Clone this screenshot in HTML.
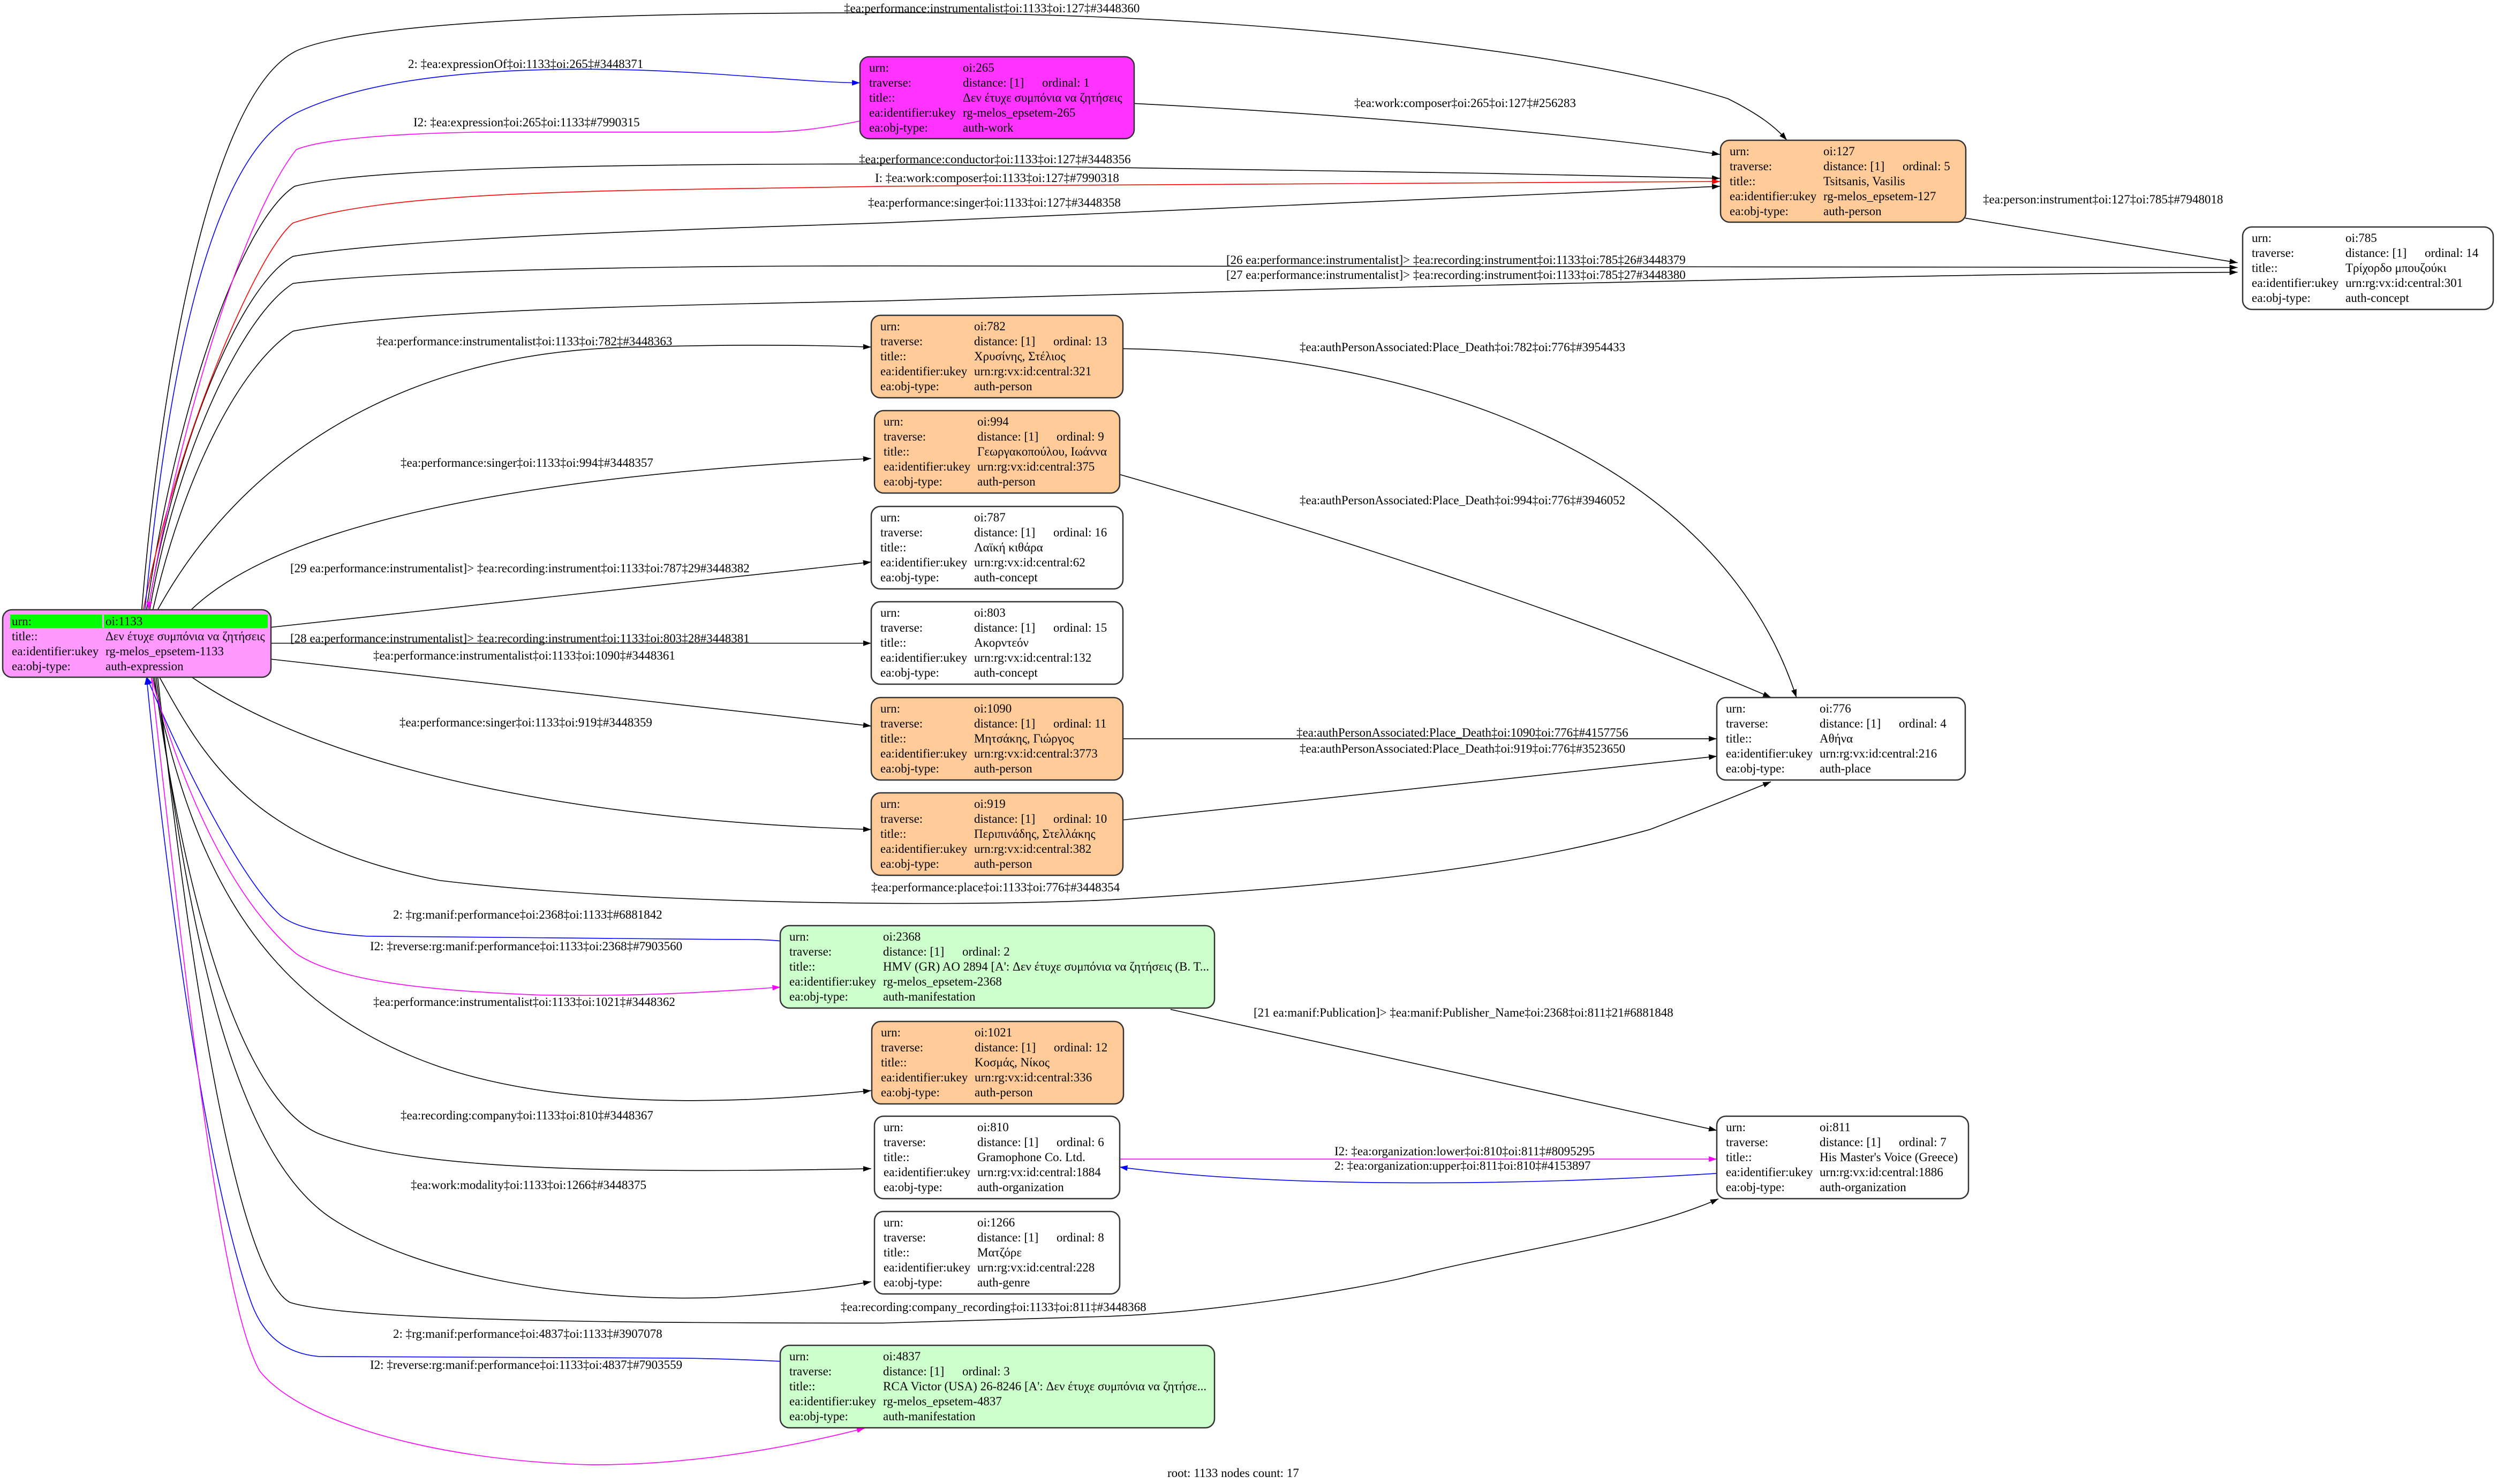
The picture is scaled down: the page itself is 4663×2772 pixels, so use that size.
<!DOCTYPE html>
<html><head><meta charset="utf-8"><style>
html,body{margin:0;padding:0;background:#fff;}
svg{display:block;}
text{font-family:"Liberation Serif","DejaVu Serif",serif;font-size:23px;fill:#000;}
.n{stroke:#333;stroke-width:2.5;}
</style></head><body>
<svg width="4663" height="2772" viewBox="0 0 4663 2772" xmlns="http://www.w3.org/2000/svg">
<defs>
<marker id="ak" markerUnits="userSpaceOnUse" markerWidth="5" markerHeight="3.6" viewBox="0 0 10 7" refX="10" refY="3.5" orient="auto"><path d="M0,0L10,3.5L0,7z" fill="#000"/></marker>
<marker id="ab" markerUnits="userSpaceOnUse" markerWidth="5" markerHeight="3.6" viewBox="0 0 10 7" refX="10" refY="3.5" orient="auto"><path d="M0,0L10,3.5L0,7z" fill="#00f"/></marker>
<marker id="am" markerUnits="userSpaceOnUse" markerWidth="5" markerHeight="3.6" viewBox="0 0 10 7" refX="10" refY="3.5" orient="auto"><path d="M0,0L10,3.5L0,7z" fill="#f0f"/></marker>
<marker id="ar" markerUnits="userSpaceOnUse" markerWidth="5" markerHeight="3.6" viewBox="0 0 10 7" refX="10" refY="3.5" orient="auto"><path d="M0,0L10,3.5L0,7z" fill="#f00"/></marker>
</defs>
<rect width="4663" height="2772" fill="#fff"/>
<g transform="scale(2.974)" fill="none" stroke-width="1.6">
<g stroke="#000" marker-end="url(#ak)">
<path vector-effect="non-scaling-stroke" d="M89,383 C100,250 130,60 186,32 C230,12 400,8 560,8 C800,8 1000,35 1085,62 C1105,72 1115,80 1122,88"/>
<path vector-effect="non-scaling-stroke" d="M92,383 C110,260 150,140 185,117 C230,105 400,103 555,103 C700,104 900,108 1080,112"/>
<path vector-effect="non-scaling-stroke" d="M93,383 C110,280 150,180 184,161 C250,150 400,145 555,140 C700,134 900,125 1080,117"/>
<path vector-effect="non-scaling-stroke" d="M94,383 C110,290 150,200 184,178 C250,170 400,167 555,167 C800,167 1200,168 1405,168"/>
<path vector-effect="non-scaling-stroke" d="M96,383 C115,300 150,230 184,208 C250,195 400,192 555,189 C800,182 1200,172 1405,171"/>
<path vector-effect="non-scaling-stroke" d="M99,383 C150,290 250,220 400,218 C470,216 520,217 547,218"/>
<path vector-effect="non-scaling-stroke" d="M120,383 C170,335 300,300 547,288"/>
<path vector-effect="non-scaling-stroke" d="M170,394 L547,353"/>
<path vector-effect="non-scaling-stroke" d="M170,404 L547,404"/>
<path vector-effect="non-scaling-stroke" d="M170,414 L547,456"/>
<path vector-effect="non-scaling-stroke" d="M120,425 C200,480 350,515 547,521"/>
<path vector-effect="non-scaling-stroke" d="M100,425 C130,480 160,530 276,553 C400,568 600,570 700,565 C850,556 950,545 1036,521 C1070,508 1095,498 1112,491"/>
<path vector-effect="non-scaling-stroke" d="M96,425 C120,540 160,630 276,670 C350,695 450,695 547,685"/>
<path vector-effect="non-scaling-stroke" d="M97,425 C115,560 150,690 200,712 C250,732 350,738 547,734"/>
<path vector-effect="non-scaling-stroke" d="M98,425 C120,600 150,730 211,767 C260,798 350,818 450,815 C500,812 530,808 547,805"/>
<path vector-effect="non-scaling-stroke" d="M99,425 C120,620 150,800 182,818 C220,830 400,831 555,831 L689,827 C760,825 850,810 884,802 C950,785 1030,775 1079,753"/>
<path vector-effect="non-scaling-stroke" d="M712,65 C850,72 1000,85 1080,97"/>
<path vector-effect="non-scaling-stroke" d="M1234,137 L1405,165"/>
<path vector-effect="non-scaling-stroke" d="M705,219 C900,222 1080,290 1128,438"/>
<path vector-effect="non-scaling-stroke" d="M703,298 C850,340 1000,390 1112,438"/>
<path vector-effect="non-scaling-stroke" d="M705,464 L1078,464"/>
<path vector-effect="non-scaling-stroke" d="M705,515 L1078,475"/>
<path vector-effect="non-scaling-stroke" d="M735,634 L1078,710"/>
</g>
<path vector-effect="non-scaling-stroke" stroke="#f00" marker-end="url(#ar)" d="M90,383 C110,280 160,160 184,140 C250,118 400,120 555,117 C800,114 950,114 1080,114"/>
<g stroke="#00f" marker-end="url(#ab)">
<path vector-effect="non-scaling-stroke" d="M91,383 C105,240 130,100 186,71 C240,45 330,42 400,44 C460,46 510,52 540,52"/>
<path vector-effect="non-scaling-stroke" d="M490,591 C480,590 470,590 450,590 L230,588 C200,586 185,582 176,575 C150,550 115,480 92,425"/>
<path vector-effect="non-scaling-stroke" d="M490,855 C470,854 440,853 420,853 L200,852 C180,850 165,840 157,816 C130,740 105,560 92,425"/>
<path vector-effect="non-scaling-stroke" d="M1078,737 C950,745 800,746 703,733"/>
</g>
<g stroke="#f0f" marker-end="url(#am)">
<path vector-effect="non-scaling-stroke" d="M540,76 C520,80 500,83 478,83 L300,83 C240,84 200,88 186,94 C150,140 110,280 93,383"/>
<path vector-effect="non-scaling-stroke" d="M95,425 C110,480 140,560 186,599 C210,615 260,622 340,625 C400,626 450,623 490,620"/>
<path vector-effect="non-scaling-stroke" d="M95,425 C120,650 140,820 163,861 C190,895 280,918 372,920 C440,920 500,908 543,897"/>
<path vector-effect="non-scaling-stroke" d="M703,728 L1078,728"/>
</g>
</g>

<text x="1576" y="23">‡ea:performance:instrumentalist‡oi:1133‡oi:127‡#3448360</text>
<text x="762" y="127">2: ‡ea:expressionOf‡oi:1133‡oi:265‡#3448371</text>
<text x="772" y="236">I2: ‡ea:expression‡oi:265‡oi:1133‡#7990315</text>
<text x="1604" y="305">‡ea:performance:conductor‡oi:1133‡oi:127‡#3448356</text>
<text x="1634" y="340">I: ‡ea:work:composer‡oi:1133‡oi:127‡#7990318</text>
<text x="1621" y="386">‡ea:performance:singer‡oi:1133‡oi:127‡#3448358</text>
<text x="2290" y="493">[26 ea:performance:instrumentalist]&gt; ‡ea:recording:instrument‡oi:1133‡oi:785‡26#3448379</text>
<text x="2290" y="521">[27 ea:performance:instrumentalist]&gt; ‡ea:recording:instrument‡oi:1133‡oi:785‡27#3448380</text>
<text x="703" y="645">‡ea:performance:instrumentalist‡oi:1133‡oi:782‡#3448363</text>
<text x="748" y="872">‡ea:performance:singer‡oi:1133‡oi:994‡#3448357</text>
<text x="542" y="1069">[29 ea:performance:instrumentalist]&gt; ‡ea:recording:instrument‡oi:1133‡oi:787‡29#3448382</text>
<text x="542" y="1200">[28 ea:performance:instrumentalist]&gt; ‡ea:recording:instrument‡oi:1133‡oi:803‡28#3448381</text>
<text x="697" y="1232">‡ea:performance:instrumentalist‡oi:1133‡oi:1090‡#3448361</text>
<text x="746" y="1357">‡ea:performance:singer‡oi:1133‡oi:919‡#3448359</text>
<text x="1627" y="1665">‡ea:performance:place‡oi:1133‡oi:776‡#3448354</text>
<text x="734" y="1716">2: ‡rg:manif:performance‡oi:2368‡oi:1133‡#6881842</text>
<text x="691" y="1775">I2: ‡reverse:rg:manif:performance‡oi:1133‡oi:2368‡#7903560</text>
<text x="697" y="1879">‡ea:performance:instrumentalist‡oi:1133‡oi:1021‡#3448362</text>
<text x="748" y="2091">‡ea:recording:company‡oi:1133‡oi:810‡#3448367</text>
<text x="767" y="2221">‡ea:work:modality‡oi:1133‡oi:1266‡#3448375</text>
<text x="1570" y="2449">‡ea:recording:company_recording‡oi:1133‡oi:811‡#3448368</text>
<text x="734" y="2499">2: ‡rg:manif:performance‡oi:4837‡oi:1133‡#3907078</text>
<text x="691" y="2557">I2: ‡reverse:rg:manif:performance‡oi:1133‡oi:4837‡#7903559</text>
<text x="2529" y="200">‡ea:work:composer‡oi:265‡oi:127‡#256283</text>
<text x="3703" y="380">‡ea:person:instrument‡oi:127‡oi:785‡#7948018</text>
<text x="2427" y="656">‡ea:authPersonAssociated:Place_Death‡oi:782‡oi:776‡#3954433</text>
<text x="2427" y="942">‡ea:authPersonAssociated:Place_Death‡oi:994‡oi:776‡#3946052</text>
<text x="2421" y="1376">‡ea:authPersonAssociated:Place_Death‡oi:1090‡oi:776‡#4157756</text>
<text x="2427" y="1406">‡ea:authPersonAssociated:Place_Death‡oi:919‡oi:776‡#3523650</text>
<text x="2341" y="1899">[21 ea:manif:Publication]&gt; ‡ea:manif:Publisher_Name‡oi:2368‡oi:811‡21#6881848</text>
<text x="2492" y="2158">I2: ‡ea:organization:lower‡oi:810‡oi:811‡#8095295</text>
<text x="2492" y="2185">2: ‡ea:organization:upper‡oi:811‡oi:810‡#4153897</text>
<text x="2180" y="2759">root: 1133 nodes count: 17</text>

<rect class="n" x="5" y="1139" width="501" height="126" rx="17" fill="#ff99ff"/>
<rect x="19" y="1148" width="172" height="25" fill="#00ff00"/>
<rect x="194" y="1148" width="306" height="25" fill="#00ff00"/>
<text x="22" y="1168">urn:</text><text x="197" y="1168">oi:1133</text>
<text x="22" y="1196">title::</text><text x="197" y="1196">Δεν έτυχε συμπόνια να ζητήσεις</text>
<text x="22" y="1224">ea:identifier:ukey</text><text x="197" y="1224">rg-melos_epsetem-1133</text>
<text x="22" y="1252">ea:obj-type:</text><text x="197" y="1252">auth-expression</text>

<rect class="n" x="1606" y="106" width="512" height="153" rx="17" fill="#ff33ff"/>
<g transform="translate(1606,106)">
<text x="17" y="28">urn:</text><text x="192" y="28">oi:265</text>
<text x="17" y="56">traverse:</text><text x="192" y="56">distance: [1]</text><text x="340" y="56">ordinal: 1</text>
<text x="17" y="84">title::</text><text x="192" y="84">Δεν έτυχε συμπόνια να ζητήσεις</text>
<text x="17" y="112">ea:identifier:ukey</text><text x="192" y="112">rg-melos_epsetem-265</text>
<text x="17" y="140">ea:obj-type:</text><text x="192" y="140">auth-work</text></g>

<rect class="n" x="3213" y="262" width="458" height="153" rx="17" fill="#ffcc99"/>
<g transform="translate(3213,262)">
<text x="17" y="28">urn:</text><text x="192" y="28">oi:127</text>
<text x="17" y="56">traverse:</text><text x="192" y="56">distance: [1]</text><text x="340" y="56">ordinal: 5</text>
<text x="17" y="84">title::</text><text x="192" y="84">Tsitsanis, Vasilis</text>
<text x="17" y="112">ea:identifier:ukey</text><text x="192" y="112">rg-melos_epsetem-127</text>
<text x="17" y="140">ea:obj-type:</text><text x="192" y="140">auth-person</text></g>

<rect class="n" x="4188" y="424" width="468" height="154" rx="17" fill="#fff"/>
<g transform="translate(4188,424)">
<text x="17" y="28">urn:</text><text x="192" y="28">oi:785</text>
<text x="17" y="56">traverse:</text><text x="192" y="56">distance: [1]</text><text x="340" y="56">ordinal: 14</text>
<text x="17" y="84">title::</text><text x="192" y="84">Τρίχορδο μπουζούκι</text>
<text x="17" y="112">ea:identifier:ukey</text><text x="192" y="112">urn:rg:vx:id:central:301</text>
<text x="17" y="140">ea:obj-type:</text><text x="192" y="140">auth-concept</text></g>

<rect class="n" x="1627" y="589" width="470" height="154" rx="17" fill="#ffcc99"/>
<g transform="translate(1627,589)">
<text x="17" y="28">urn:</text><text x="192" y="28">oi:782</text>
<text x="17" y="56">traverse:</text><text x="192" y="56">distance: [1]</text><text x="340" y="56">ordinal: 13</text>
<text x="17" y="84">title::</text><text x="192" y="84">Χρυσίνης, Στέλιος</text>
<text x="17" y="112">ea:identifier:ukey</text><text x="192" y="112">urn:rg:vx:id:central:321</text>
<text x="17" y="140">ea:obj-type:</text><text x="192" y="140">auth-person</text></g>

<rect class="n" x="1633" y="767" width="458" height="154" rx="17" fill="#ffcc99"/>
<g transform="translate(1633,767)">
<text x="17" y="28">urn:</text><text x="192" y="28">oi:994</text>
<text x="17" y="56">traverse:</text><text x="192" y="56">distance: [1]</text><text x="340" y="56">ordinal: 9</text>
<text x="17" y="84">title::</text><text x="192" y="84">Γεωργακοπούλου, Ιωάννα</text>
<text x="17" y="112">ea:identifier:ukey</text><text x="192" y="112">urn:rg:vx:id:central:375</text>
<text x="17" y="140">ea:obj-type:</text><text x="192" y="140">auth-person</text></g>

<rect class="n" x="1627" y="946" width="470" height="154" rx="17" fill="#fff"/>
<g transform="translate(1627,946)">
<text x="17" y="28">urn:</text><text x="192" y="28">oi:787</text>
<text x="17" y="56">traverse:</text><text x="192" y="56">distance: [1]</text><text x="340" y="56">ordinal: 16</text>
<text x="17" y="84">title::</text><text x="192" y="84">Λαϊκή κιθάρα</text>
<text x="17" y="112">ea:identifier:ukey</text><text x="192" y="112">urn:rg:vx:id:central:62</text>
<text x="17" y="140">ea:obj-type:</text><text x="192" y="140">auth-concept</text></g>

<rect class="n" x="1627" y="1124" width="470" height="154" rx="17" fill="#fff"/>
<g transform="translate(1627,1124)">
<text x="17" y="28">urn:</text><text x="192" y="28">oi:803</text>
<text x="17" y="56">traverse:</text><text x="192" y="56">distance: [1]</text><text x="340" y="56">ordinal: 15</text>
<text x="17" y="84">title::</text><text x="192" y="84">Ακορντεόν</text>
<text x="17" y="112">ea:identifier:ukey</text><text x="192" y="112">urn:rg:vx:id:central:132</text>
<text x="17" y="140">ea:obj-type:</text><text x="192" y="140">auth-concept</text></g>

<rect class="n" x="1627" y="1303" width="470" height="154" rx="17" fill="#ffcc99"/>
<g transform="translate(1627,1303)">
<text x="17" y="28">urn:</text><text x="192" y="28">oi:1090</text>
<text x="17" y="56">traverse:</text><text x="192" y="56">distance: [1]</text><text x="340" y="56">ordinal: 11</text>
<text x="17" y="84">title::</text><text x="192" y="84">Μητσάκης, Γιώργος</text>
<text x="17" y="112">ea:identifier:ukey</text><text x="192" y="112">urn:rg:vx:id:central:3773</text>
<text x="17" y="140">ea:obj-type:</text><text x="192" y="140">auth-person</text></g>

<rect class="n" x="1627" y="1481" width="470" height="154" rx="17" fill="#ffcc99"/>
<g transform="translate(1627,1481)">
<text x="17" y="28">urn:</text><text x="192" y="28">oi:919</text>
<text x="17" y="56">traverse:</text><text x="192" y="56">distance: [1]</text><text x="340" y="56">ordinal: 10</text>
<text x="17" y="84">title::</text><text x="192" y="84">Περιπινάδης, Στελλάκης</text>
<text x="17" y="112">ea:identifier:ukey</text><text x="192" y="112">urn:rg:vx:id:central:382</text>
<text x="17" y="140">ea:obj-type:</text><text x="192" y="140">auth-person</text></g>

<rect class="n" x="3206" y="1303" width="464" height="154" rx="17" fill="#fff"/>
<g transform="translate(3206,1303)">
<text x="17" y="28">urn:</text><text x="192" y="28">oi:776</text>
<text x="17" y="56">traverse:</text><text x="192" y="56">distance: [1]</text><text x="340" y="56">ordinal: 4</text>
<text x="17" y="84">title::</text><text x="192" y="84">Αθήνα</text>
<text x="17" y="112">ea:identifier:ukey</text><text x="192" y="112">urn:rg:vx:id:central:216</text>
<text x="17" y="140">ea:obj-type:</text><text x="192" y="140">auth-place</text></g>

<rect class="n" x="1457" y="1729" width="811" height="154" rx="17" fill="#ccffcc"/>
<g transform="translate(1457,1729)">
<text x="17" y="28">urn:</text><text x="192" y="28">oi:2368</text>
<text x="17" y="56">traverse:</text><text x="192" y="56">distance: [1]</text><text x="340" y="56">ordinal: 2</text>
<text x="17" y="84">title::</text><text x="192" y="84">HMV (GR) AO 2894 [A': Δεν έτυχε συμπόνια να ζητήσεις (B. T...</text>
<text x="17" y="112">ea:identifier:ukey</text><text x="192" y="112">rg-melos_epsetem-2368</text>
<text x="17" y="140">ea:obj-type:</text><text x="192" y="140">auth-manifestation</text></g>

<rect class="n" x="1628" y="1908" width="470" height="154" rx="17" fill="#ffcc99"/>
<g transform="translate(1628,1908)">
<text x="17" y="28">urn:</text><text x="192" y="28">oi:1021</text>
<text x="17" y="56">traverse:</text><text x="192" y="56">distance: [1]</text><text x="340" y="56">ordinal: 12</text>
<text x="17" y="84">title::</text><text x="192" y="84">Κοσμάς, Νίκος</text>
<text x="17" y="112">ea:identifier:ukey</text><text x="192" y="112">urn:rg:vx:id:central:336</text>
<text x="17" y="140">ea:obj-type:</text><text x="192" y="140">auth-person</text></g>

<rect class="n" x="1633" y="2085" width="458" height="154" rx="17" fill="#fff"/>
<g transform="translate(1633,2085)">
<text x="17" y="28">urn:</text><text x="192" y="28">oi:810</text>
<text x="17" y="56">traverse:</text><text x="192" y="56">distance: [1]</text><text x="340" y="56">ordinal: 6</text>
<text x="17" y="84">title::</text><text x="192" y="84">Gramophone Co. Ltd.</text>
<text x="17" y="112">ea:identifier:ukey</text><text x="192" y="112">urn:rg:vx:id:central:1884</text>
<text x="17" y="140">ea:obj-type:</text><text x="192" y="140">auth-organization</text></g>

<rect class="n" x="1633" y="2263" width="458" height="154" rx="17" fill="#fff"/>
<g transform="translate(1633,2263)">
<text x="17" y="28">urn:</text><text x="192" y="28">oi:1266</text>
<text x="17" y="56">traverse:</text><text x="192" y="56">distance: [1]</text><text x="340" y="56">ordinal: 8</text>
<text x="17" y="84">title::</text><text x="192" y="84">Ματζόρε</text>
<text x="17" y="112">ea:identifier:ukey</text><text x="192" y="112">urn:rg:vx:id:central:228</text>
<text x="17" y="140">ea:obj-type:</text><text x="192" y="140">auth-genre</text></g>

<rect class="n" x="3206" y="2085" width="470" height="154" rx="17" fill="#fff"/>
<g transform="translate(3206,2085)">
<text x="17" y="28">urn:</text><text x="192" y="28">oi:811</text>
<text x="17" y="56">traverse:</text><text x="192" y="56">distance: [1]</text><text x="340" y="56">ordinal: 7</text>
<text x="17" y="84">title::</text><text x="192" y="84">His Master's Voice (Greece)</text>
<text x="17" y="112">ea:identifier:ukey</text><text x="192" y="112">urn:rg:vx:id:central:1886</text>
<text x="17" y="140">ea:obj-type:</text><text x="192" y="140">auth-organization</text></g>

<rect class="n" x="1457" y="2513" width="811" height="154" rx="17" fill="#ccffcc"/>
<g transform="translate(1457,2513)">
<text x="17" y="28">urn:</text><text x="192" y="28">oi:4837</text>
<text x="17" y="56">traverse:</text><text x="192" y="56">distance: [1]</text><text x="340" y="56">ordinal: 3</text>
<text x="17" y="84">title::</text><text x="192" y="84">RCA Victor (USA) 26-8246 [A': Δεν έτυχε συμπόνια να ζητήσε...</text>
<text x="17" y="112">ea:identifier:ukey</text><text x="192" y="112">rg-melos_epsetem-4837</text>
<text x="17" y="140">ea:obj-type:</text><text x="192" y="140">auth-manifestation</text></g>
</svg>
</body></html>
